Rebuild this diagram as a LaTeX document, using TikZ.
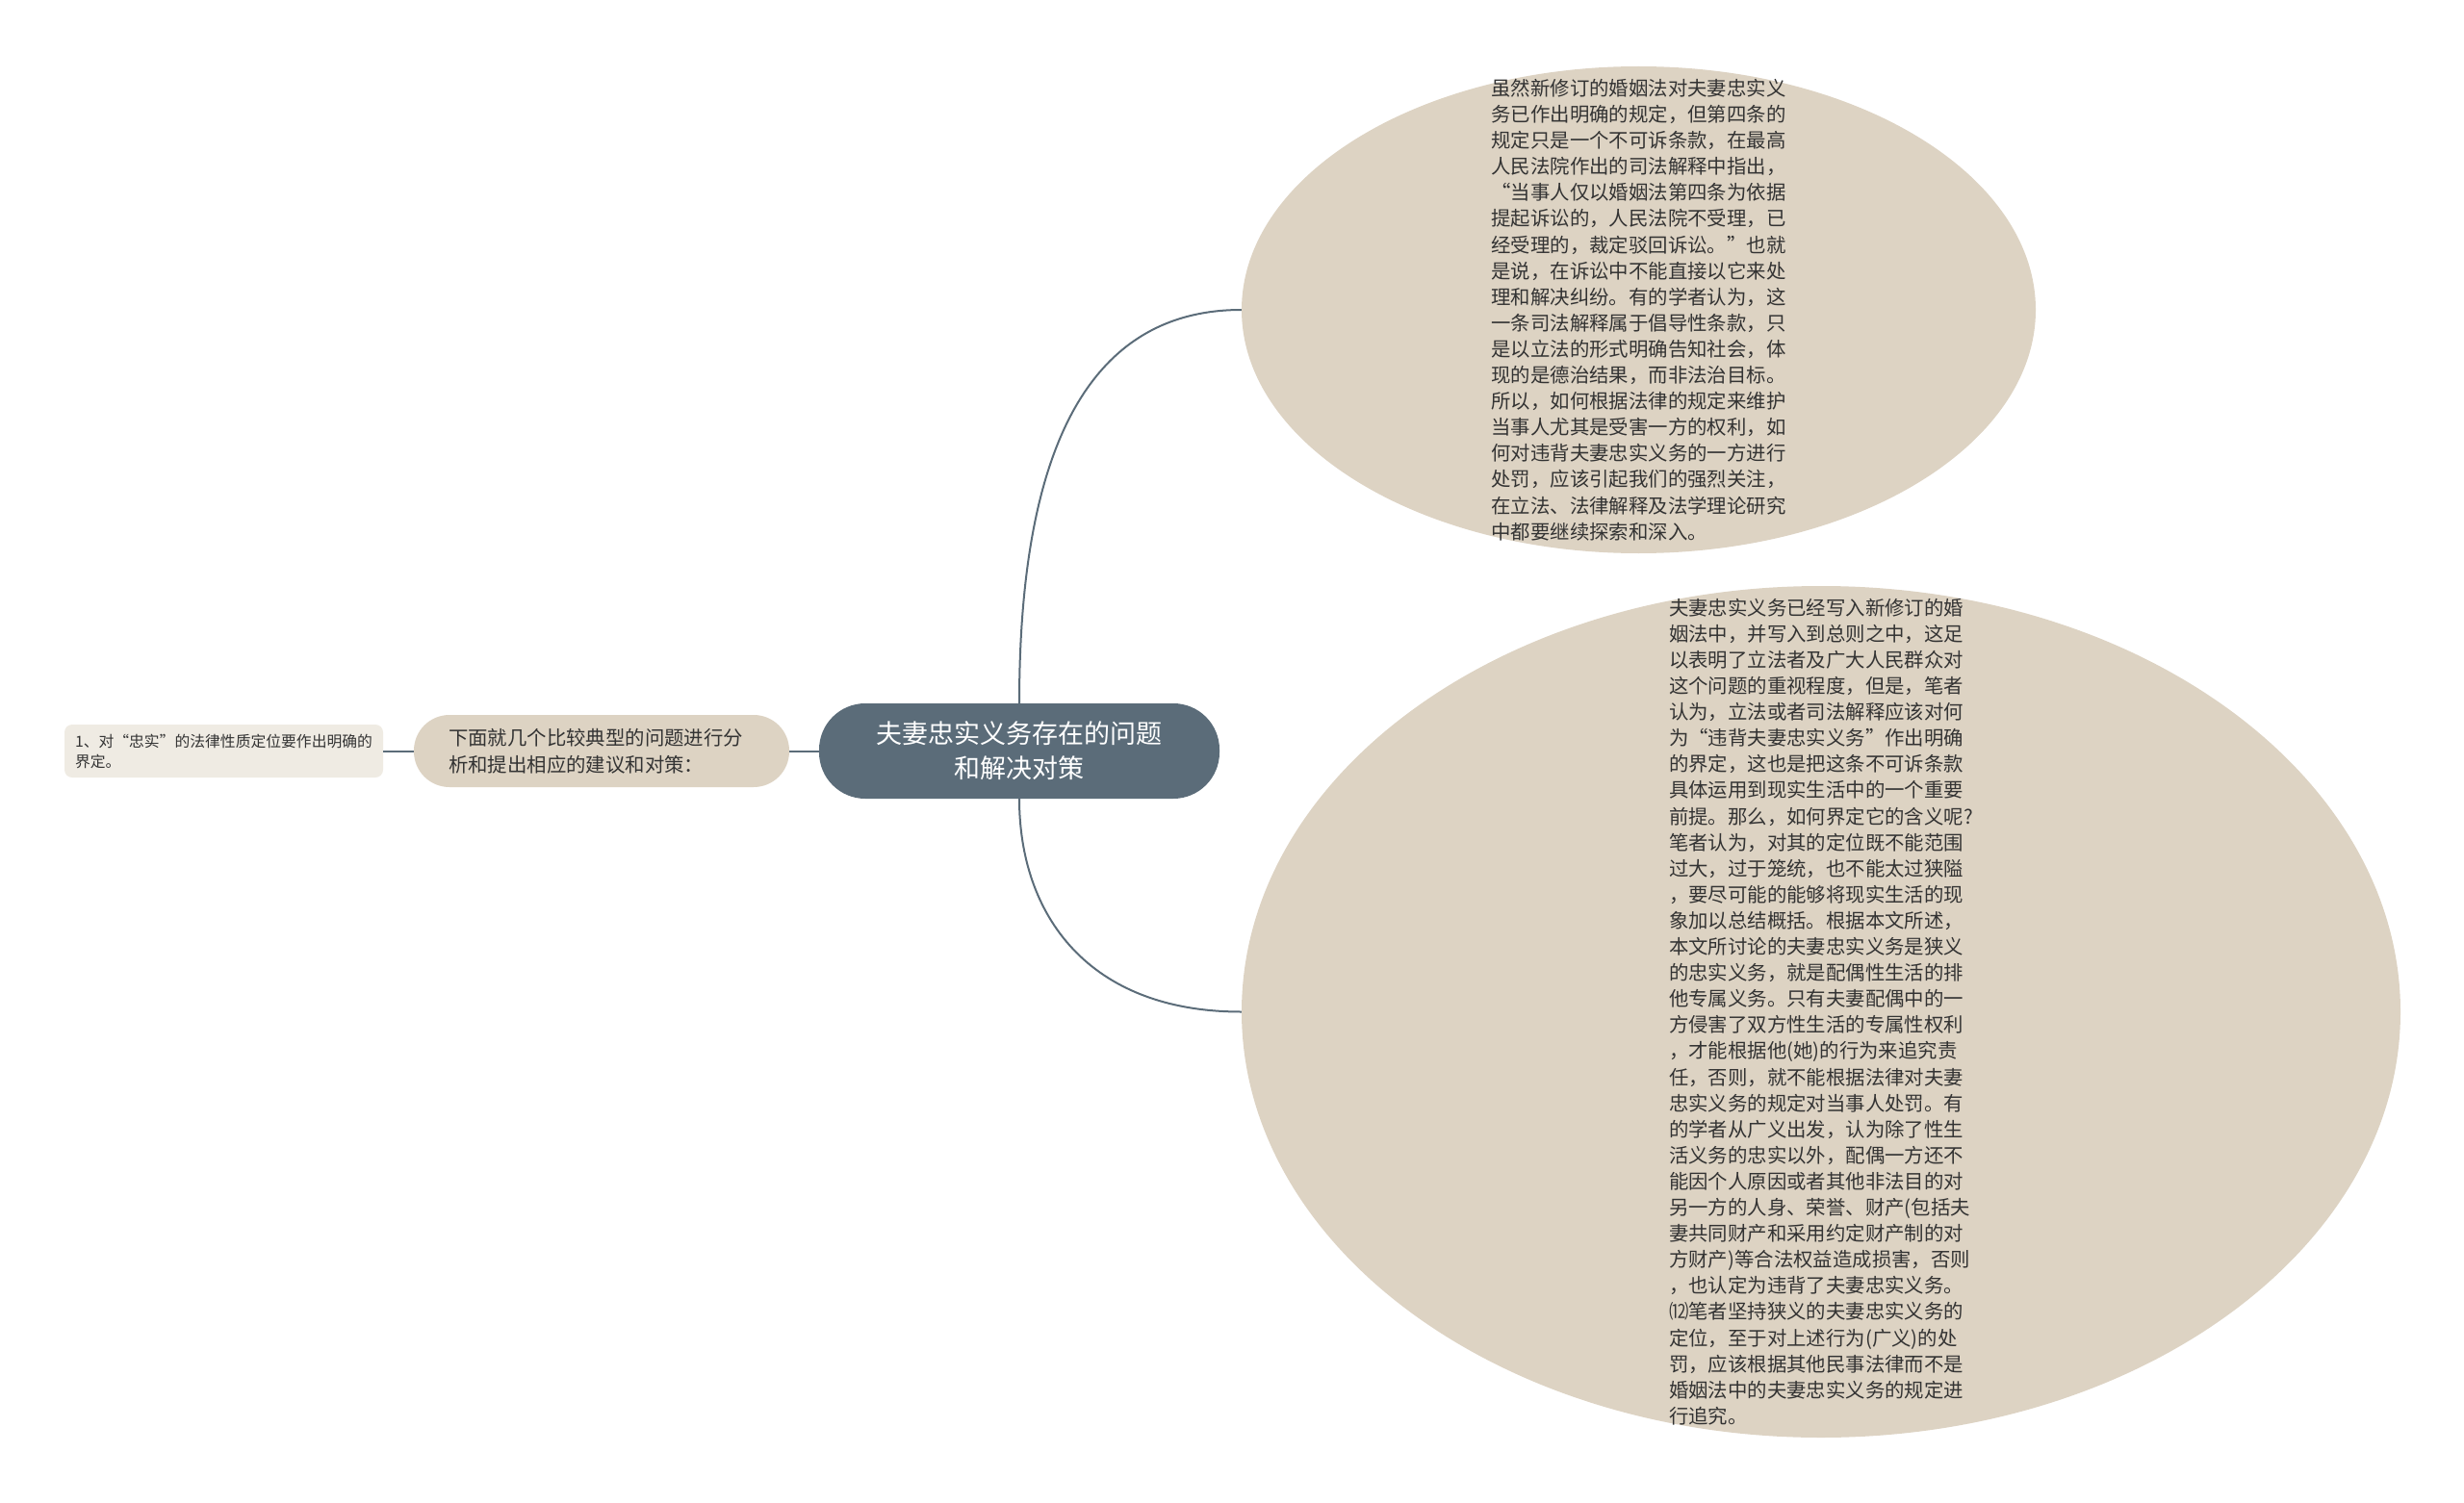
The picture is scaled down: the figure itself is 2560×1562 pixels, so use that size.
\documentclass[tikz,border=0pt]{standalone}
\usepackage{fontspec}
\setmainfont{Noto Sans CJK SC}
\usepackage{tikz}
\usetikzlibrary{shapes.geometric}
\definecolor{slate}{HTML}{5B6C79}
\definecolor{sand}{HTML}{DDD3C3}
\definecolor{paper}{HTML}{EFEBE3}
\definecolor{ink}{HTML}{333333}
\tikzstyle{every node}=[font=\fontsize{20.4pt}{27.1pt}\selectfont,text=ink]
\tikzstyle{root}=[rectangle,
                                    rounded corners=48pt,
                                    fill=slate,
                                    text=white,
                                    minimum width=416pt,
                                    minimum height=99pt,
                                    align=center,
                                    font=\fontsize{27pt}{36pt}\selectfont
                                    ]
\tikzstyle{branch}=[rectangle,
                                    rounded corners=37pt,
                                    fill=sand,
                                    minimum width=390pt,
                                    minimum height=75pt,
                                    text width=318pt,
                                    align=left,
                                    font=\fontsize{20.4pt}{28pt}\selectfont
                                    ]
\tikzstyle{leaf}=[rectangle,
                                    rounded corners=8pt,
                                    fill=paper,
                                    minimum width=331pt,
                                    minimum height=55pt,
                                    align=left,
                                    font=\fontsize{15.8pt}{21pt}\selectfont
                                    ]
\tikzstyle{bubble}=[ellipse,
                                    fill=sand,
                                    inner sep=0pt
                                    ]
\tikzstyle{link}=[draw=slate,line width=2pt]

\begin{document}
\begin{tikzpicture}[x=1pt,y=-1pt,node distance=434pt]
\useasboundingbox (0,0) rectangle (2560,1562);
\node (C)   [root] at (1059,780.5) {夫妻忠实义务存在的问题\\和解决对策};
\node (L)   [branch,left of=C] {下面就几个比较典型的问题进行分\\析和提出相应的建议和对策：};
\node (F)   [leaf,left of=L,node distance=392.5pt] {1、对“忠实”的法律性质定位要作出明确的\\界定。};
% the two long texts on the right
\node (R_1) [bubble,minimum width=825pt,minimum height=506pt] at (1702.5,322) {};
\node (R_1t) [align=left] at (R_1.center) {虽然新修订的婚姻法对夫妻忠实义\\务已作出明确的规定，但第四条的\\规定只是一个不可诉条款，在最高\\人民法院作出的司法解释中指出，\\“当事人仅以婚姻法第四条为依据\\提起诉讼的，人民法院不受理，已\\经受理的，裁定驳回诉讼。”也就\\是说，在诉讼中不能直接以它来处\\理和解决纠纷。有的学者认为，这\\一条司法解释属于倡导性条款，只\\是以立法的形式明确告知社会，体\\现的是德治结果，而非法治目标。\\所以，如何根据法律的规定来维护\\当事人尤其是受害一方的权利，如\\何对违背夫妻忠实义务的一方进行\\处罚，应该引起我们的强烈关注，\\在立法、法律解释及法学理论研究\\中都要继续探索和深入。};
\node (R_2) [bubble,minimum width=1204pt,minimum height=885pt] at (1892,1051.5) {};
\node (R_2t) [align=left] at (R_2.center) {夫妻忠实义务已经写入新修订的婚\\姻法中，并写入到总则之中，这足\\以表明了立法者及广大人民群众对\\这个问题的重视程度，但是，笔者\\认为，立法或者司法解释应该对何\\为“违背夫妻忠实义务”作出明确\\的界定，这也是把这条不可诉条款\\具体运用到现实生活中的一个重要\\前提。那么，如何界定它的含义呢?\\笔者认为，对其的定位既不能范围\\过大，过于笼统，也不能太过狭隘\\，要尽可能的能够将现实生活的现\\象加以总结概括。根据本文所述，\\本文所讨论的夫妻忠实义务是狭义\\的忠实义务，就是配偶性生活的排\\他专属义务。只有夫妻配偶中的一\\方侵害了双方性生活的专属性权利\\，才能根据他(她)的行为来追究责\\任，否则，就不能根据法律对夫妻\\忠实义务的规定对当事人处罚。有\\的学者从广义出发，认为除了性生\\活义务的忠实以外，配偶一方还不\\能因个人原因或者其他非法目的对\\另一方的人身、荣誉、财产(包括夫\\妻共同财产和采用约定财产制的对\\方财产)等合法权益造成损害，否则\\，也认定为违背了夫妻忠实义务。\\⑿笔者坚持狭义的夫妻忠实义务的\\定位，至于对上述行为(广义)的处\\罚，应该根据其他民事法律而不是\\婚姻法中的夫妻忠实义务的规定进\\行追究。};
 \path (C.west) edge[link] (L.east);
 \path (L.west) edge[link] (F.east);
 \draw[link] (C.north) .. controls +(0,-262) and +(-160,0) .. (R_1.west);
 \draw[link] (C.south) .. controls +(0,120) and +(-160,0) .. (R_2.west);
\end{tikzpicture}
\end{document}
